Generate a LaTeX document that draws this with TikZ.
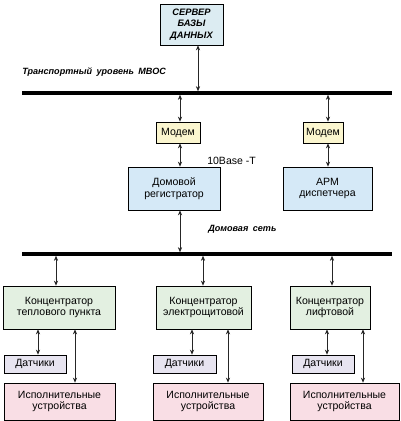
\documentclass[tikz,border=0pt]{standalone}
\usepackage{fontspec}
\setmainfont{Liberation Sans}
\usetikzlibrary{arrows.meta,shadows}
\definecolor{srvfill}{HTML}{DCECF2}
\definecolor{bluefill}{HTML}{D5E9F7}
\definecolor{modfill}{HTML}{FBF6CF}
\definecolor{grnfill}{HTML}{E3F0E1}
\definecolor{lavfill}{HTML}{E7E4F0}
\definecolor{pinkfill}{HTML}{F9DEE5}
\begin{document}
\begin{tikzpicture}[x=0.75pt,y=-0.75pt,
  box/.style={draw=black, line width=0.5pt, inner sep=0pt, align=center,
    font=\fontsize{7.9}{8.6}\selectfont,
    drop shadow={shadow xshift=0.8pt, shadow yshift=-0.8pt, opacity=0.7, fill=black}},
  arr/.style={{Stealth[length=3.8pt,width=3.2pt]}-{Stealth[length=3.8pt,width=3.2pt]}, line width=0.5pt, black!85},
  bus/.style={line width=2.3pt},
  lbl/.style={font=\bfseries\itshape\fontsize{6.8}{8}\selectfont, anchor=west, inner sep=0pt},
  plbl/.style={font=\fontsize{7.9}{9}\selectfont, anchor=west, inner sep=0pt}]
\useasboundingbox (0,0) rectangle (400,421);

% server
\node[box, fill=srvfill, minimum width=63*0.75pt, minimum height=41*0.75pt,
  font=\bfseries\itshape\fontsize{7}{8.6}\selectfont] (srv) at (191.5,24.5) {СЕРВЕР\\БАЗЫ\\ДАННЫХ};

% bus 1
\coordinate (b1L) at (22,93);
\coordinate (b1R) at (392,93);
\draw[bus] (b1L) -- (b1R);
\node[lbl] (tlab) at (22,72) {Транспортный\hspace{1.5pt} уровень\hspace{1.5pt} МВОС};

% modems
\node[box, fill=modfill, minimum width=44*0.75pt, minimum height=21*0.75pt] (mod1) at (178,132.5) {Модем};
\node[box, fill=modfill, minimum width=40*0.75pt, minimum height=21*0.75pt] (mod2) at (323,132.5) {Модем};

% registrator and ARM
\node[box, fill=bluefill, minimum width=92*0.75pt, minimum height=43*0.75pt] (dom) at (174,188.5) {Домовой\\регистратор};
\node[box, fill=bluefill, minimum width=89*0.75pt, minimum height=43*0.75pt] (arm) at (327.5,188.5) {АРМ\\диспетчера};
\node[plbl] (tb) at (207,161) {10Base -T};

% bus 2
\coordinate (b2L) at (22,254);
\coordinate (b2R) at (392,254);
\draw[bus] (b2L) -- (b2R);
\node[lbl] (dlab) at (208,229) {Домовая\hspace{1.5pt} сеть};

% concentrators
\node[box, fill=grnfill, minimum width=112*0.75pt, minimum height=43*0.75pt] (k1) at (59,307.5) {Концентратор\\теплового пункта};
\node[box, fill=grnfill, minimum width=95*0.75pt, minimum height=43*0.75pt] (k2) at (203.5,307.5) {Концентратор\\электрощитовой};
\node[box, fill=grnfill, minimum width=80*0.75pt, minimum height=43*0.75pt] (k3) at (330,307.5) {Концентратор\\лифтовой};

% sensors
\node[box, fill=lavfill, minimum width=62*0.75pt, minimum height=18*0.75pt] (d1) at (35,364) {Датчики};
\node[box, fill=lavfill, minimum width=63*0.75pt, minimum height=18*0.75pt] (d2) at (184.5,364) {Датчики};
\node[box, fill=lavfill, minimum width=62*0.75pt, minimum height=18*0.75pt] (d3) at (323,364) {Датчики};

% executors
\node[box, fill=pinkfill, minimum width=111*0.75pt, minimum height=37*0.75pt] (e1) at (59.5,401.5) {Исполнительные\\устройства};
\node[box, fill=pinkfill, minimum width=110*0.75pt, minimum height=37*0.75pt] (e2) at (208,401.5) {Исполнительные\\устройства};
\node[box, fill=pinkfill, minimum width=109*0.75pt, minimum height=37*0.75pt] (e3) at (344.5,401.5) {Исполнительные\\устройства};

% connectors top part
\coordinate (s1) at (198,91.2);
\draw[arr] (srv.south -| s1) -- (s1);
\coordinate (m1t) at (180,94.8);
\coordinate (m2t) at (328,94.8);
\draw[arr] (m1t) -- (mod1.north -| m1t);
\draw[arr] (m2t) -- (mod2.north -| m2t);
\draw[arr] (mod1.south -| m1t) -- (dom.north -| m1t);
\draw[arr] (mod2.south -| m2t) -- (arm.north -| m2t);
\coordinate (r2) at (180,252.2);
\draw[arr] (dom.south -| r2) -- (r2);

% bus 2 to concentrators
\coordinate (c1) at (56,255.8);
\coordinate (c2) at (203,255.8);
\coordinate (c3) at (332,255.8);
\draw[arr] (c1) -- (k1.north -| c1);
\draw[arr] (c2) -- (k2.north -| c2);
\draw[arr] (c3) -- (k3.north -| c3);

% concentrators to sensors and executors
\coordinate (xs1) at (38,0);
\coordinate (xs2) at (192,0);
\coordinate (xs3) at (327,0);
\coordinate (xe1) at (75,0);
\coordinate (xe2) at (228,0);
\coordinate (xe3) at (363,0);
\draw[arr] (k1.south -| xs1) -- (d1.north -| xs1);
\draw[arr] (k2.south -| xs2) -- (d2.north -| xs2);
\draw[arr] (k3.south -| xs3) -- (d3.north -| xs3);
\draw[arr] (k1.south -| xe1) -- (e1.north -| xe1);
\draw[arr] (k2.south -| xe2) -- (e2.north -| xe2);
\draw[arr] (k3.south -| xe3) -- (e3.north -| xe3);
\end{tikzpicture}
\end{document}
